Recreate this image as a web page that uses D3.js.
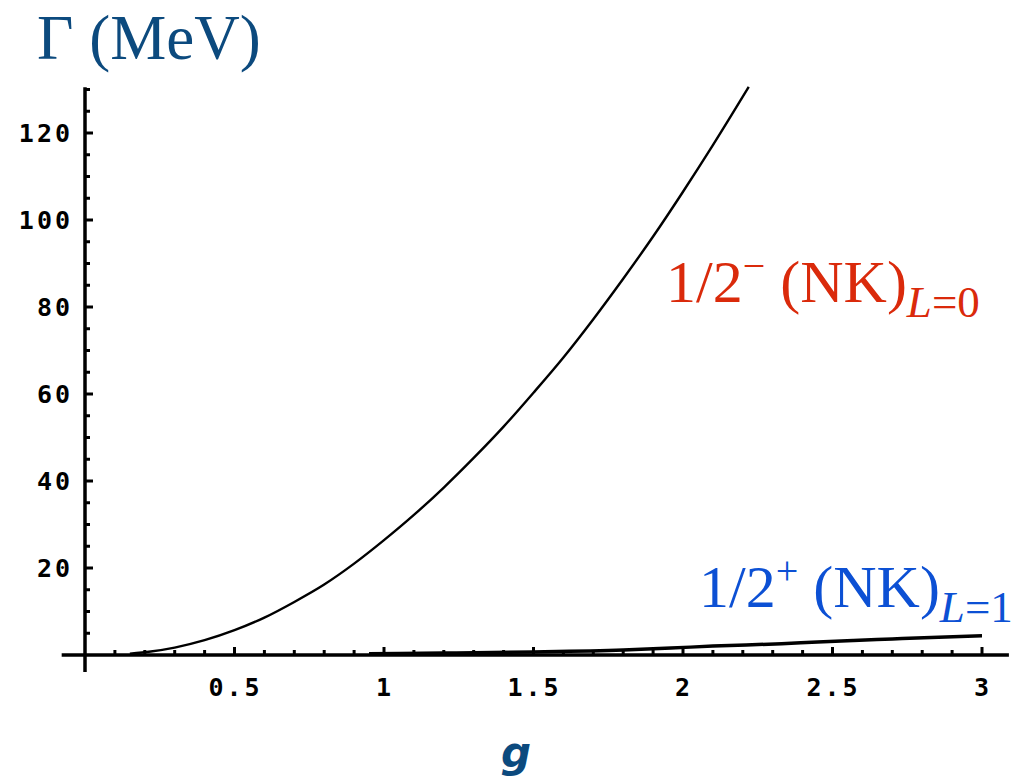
<!DOCTYPE html>
<html>
<head>
<meta charset="utf-8">
<script src="https://cdn.jsdelivr.net/npm/d3@7"></script>
<style>
  body { margin: 0; background: #fff; }
  svg { display: block; }
</style>
</head>
<body>
<main></main>
<script>
// widths, g (coupling) vs Gamma (MeV)
const gMinus = [0.15, 0.22, 0.3, 0.4, 0.5, 0.6, 0.7, 0.8, 0.9, 1.0, 1.1,
  1.2, 1.3, 1.4, 1.5, 1.6, 1.7, 1.8, 1.9, 2.0, 2.1, 2.22];
const widthMinus = [0.3, 0.8, 1.7, 3.4, 5.7, 8.6, 12.2, 16.2, 21.0, 26.4, 32.2,
  38.5, 45.3, 52.5, 60.3, 68.4, 77.2, 86.5, 96.2, 106.5, 117.2, 130.6];

const gPlus = [0.95, 1.2, 1.5, 1.8, 1.96, 2.1, 2.33, 2.45, 2.57, 2.7, 2.83, 3.0];
const widthPlus = [0.3, 0.45, 0.7, 1.15, 1.6, 2.05, 2.6, 3.0, 3.35, 3.7, 4.05, 4.4];

const xTickLabels = ['0.5', '1', '1.5', '2', '2.5', '3'];
const yTickLabels = ['20', '40', '60', '80', '100', '120'];

function draw_chart() {
  const width = 1019;
  const height = 781;

  let svg = d3.select('main')
    .append('svg')
    .attr('width', width)
    .attr('height', height);

  const x = d3.scaleLinear().domain([0, 3]).range([85, 982]);
  const y = d3.scaleLinear().domain([0, 120]).range([655, 133]);

  const tickFont = "'DejaVu Sans Mono', monospace";

  // axes lines
  svg.append('line')
    .attr('x1', x(-0.078)).attr('x2', x(3.09))
    .attr('y1', y(0)).attr('y2', y(0))
    .attr('stroke', '#000').attr('stroke-width', 3.5);
  svg.append('line')
    .attr('x1', x(0)).attr('x2', x(0))
    .attr('y1', y(-3.9)).attr('y2', y(130.5))
    .attr('stroke', '#000').attr('stroke-width', 3.5);

  // x ticks (pointing up)
  const xMinor = d3.range(1, 31).map(function (i) { return i / 10; });
  svg.append('g').selectAll('line')
    .data(xMinor)
    .enter()
    .append('line')
    .attr('x1', function (d) { return x(d); })
    .attr('x2', function (d) { return x(d); })
    .attr('y1', y(0))
    .attr('y2', function (d, i) { return (i + 1) % 5 === 0 ? y(0) - 8 : y(0) - 5; })
    .attr('stroke', '#000').attr('stroke-width', 3);

  svg.append('g').selectAll('text')
    .data(xTickLabels)
    .enter()
    .append('text')
    .attr('x', function (d) { return x(+d) + 1; })
    .attr('y', 696)
    .attr('text-anchor', 'middle')
    .style('font-family', tickFont)
    .style('font-weight', 'bold')
    .style('font-size', '25px')
    .style('letter-spacing', '3px')
    .text(function (d) { return d; });

  // y ticks (pointing right)
  const yMinor = d3.range(1, 27).map(function (i) { return i * 5; });
  svg.append('g').selectAll('line')
    .data(yMinor)
    .enter()
    .append('line')
    .attr('x1', x(0))
    .attr('x2', function (d) { return d % 20 === 0 ? x(0) + 8 : x(0) + 5; })
    .attr('y1', function (d) { return y(d); })
    .attr('y2', function (d) { return y(d); })
    .attr('stroke', '#000').attr('stroke-width', 3);

  svg.append('g').selectAll('text')
    .data(yTickLabels)
    .enter()
    .append('text')
    .attr('x', 73)
    .attr('y', function (d) { return y(+d) + 9; })
    .attr('text-anchor', 'end')
    .style('font-family', tickFont)
    .style('font-weight', 'bold')
    .style('font-size', '25px')
    .style('letter-spacing', '3px')
    .text(function (d) { return d; });

  // curves
  const line = d3.line()
    .x(function (d) { return x(d[0]); })
    .y(function (d) { return y(d[1]); })
    .curve(d3.curveMonotoneX);

  svg.append('path')
    .datum(d3.zip(gMinus, widthMinus))
    .attr('d', line)
    .attr('fill', 'none')
    .attr('stroke', '#000')
    .attr('stroke-width', 2.4);

  svg.append('path')
    .datum(d3.zip(gPlus, widthPlus))
    .attr('d', line)
    .attr('fill', 'none')
    .attr('stroke', '#000')
    .attr('stroke-width', 3.5);

  // axis titles
  svg.append('text')
    .attr('x', 37)
    .attr('y', 59)
    .style('font-family', "'Liberation Serif', 'Times New Roman', serif")
    .style('font-size', '63px')
    .style('fill', '#0c4a7e')
    .text('Γ (MeV)');

  svg.append('text')
    .attr('x', 516)
    .attr('y', 767)
    .attr('text-anchor', 'middle')
    .style('font-family', "'DejaVu Sans', sans-serif")
    .style('font-weight', 'bold')
    .style('font-style', 'italic')
    .style('font-size', '42px')
    .style('fill', '#0c4a7e')
    .text('g');

  // curve labels
  const serif = "'Liberation Serif', 'Times New Roman', serif";
  function add_label(px, py, sign, sub, color) {
    let t = svg.append('text')
      .attr('x', px)
      .attr('y', py)
      .style('font-family', serif)
      .style('font-size', '60px')
      .style('fill', color);
    t.append('tspan').text('1/2');
    t.append('tspan')
      .attr('dy', -23)
      .style('font-size', '40px')
      .text(sign);
    t.append('tspan')
      .attr('dy', 23)
      .text(' (NK)');
    t.append('tspan')
      .attr('dy', 15)
      .style('font-size', '45px')
      .style('font-style', 'italic')
      .text('L');
    t.append('tspan')
      .style('font-size', '45px')
      .text(sub);
  }
  add_label(666, 302, '\u2212', '=0', '#da2a0b');
  add_label(699, 607, '+', '=1', '#0c50d4');
}

draw_chart();
</script>
</body>
</html>
